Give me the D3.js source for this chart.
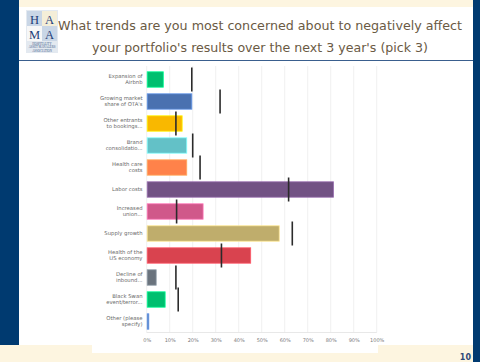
<!DOCTYPE html>
<html lang="en">
<head>
<meta charset="UTF-8">
<title>Trends chart</title>
<script src="https://cdnjs.cloudflare.com/ajax/libs/d3/7.8.5/d3.min.js"></script>
<style>
  body { margin: 0; padding: 0; background: #fff; }
  svg { display: block; }
</style>
</head>
<body>
<svg id="chart" width="480" height="362"></svg>
<script>
// answer options (line breaks as shown on the chart)
var categories = [
  "Expansion of\nAirbnb",
  "Growing market\nshare of OTA's",
  "Other entrants\nto bookings...",
  "Brand\nconsolidatio...",
  "Health care\ncosts",
  "Labor costs",
  "Increased\nunion...",
  "Supply growth",
  "Health of the\nUS economy",
  "Decline of\ninbound...",
  "Black Swan\nevent/terror...",
  "Other (please\nspecify)"
];
// this year's responses, %
var values = [7, 19.4, 15.2, 17.2, 17.2, 81, 24.3, 57.4, 45, 3.9, 7.8, 0.7];
// last year's marker lines, % (null = no marker)
var markers = [19.6, 31.9, 12.7, 20, 23.2, 61.7, 13, 63.3, 32.5, 12.7, 13.7, null];
var barColors = ["#00bf6f", "#4a71b0", "#f9b800", "#63c1c7", "#ff824a", "#725284",
                 "#d0588a", "#bfad6c", "#d9434f", "#6a737d", "#00bf6f", "#4a71b0"];
var ticks = d3.range(0, 101, 10);

var svg = d3.select("#chart");

// slide frame
svg.append("rect").attr("x", 0).attr("y", 0).attr("width", 480).attr("height", 362).attr("fill", "#fdf5e0");
svg.append("rect").attr("x", 19).attr("y", 7).attr("width", 454).attr("height", 338).attr("fill", "#ffffff");
svg.append("rect").attr("x", 0).attr("y", 0).attr("width", 19).attr("height", 345).attr("fill", "#003a70");
svg.append("rect").attr("x", 473).attr("y", 0).attr("width", 7).attr("height", 362).attr("fill", "#003a70");
svg.append("line").attr("x1", 19).attr("x2", 473).attr("y1", 60.5).attr("y2", 60.5)
  .attr("stroke", "#3a5f8e").attr("stroke-width", 1.2);

// logo
var logo = svg.append("g").attr("transform", "translate(26,10)");
logo.append("rect").attr("width", 32).attr("height", 43).attr("fill", "#e3e9f0");
var cells = [
  {t: "H", x: 1, y: 1, bg: "#c9d6e6"},
  {t: "A", x: 16, y: 1, bg: "#f4eed8"},
  {t: "M", x: 1, y: 16, bg: "#f7f7f7"},
  {t: "A", x: 16, y: 16, bg: "#c9d6e6"}
];
cells.forEach(function (c) {
  logo.append("rect").attr("x", c.x).attr("y", c.y).attr("width", 15).attr("height", 15).attr("fill", c.bg);
  logo.append("text").attr("x", c.x + 7.5).attr("y", c.y + 12.5).attr("text-anchor", "middle")
    .attr("font-family", "Liberation Serif, serif").attr("font-size", 12.5).attr("fill", "#1d3d78").text(c.t);
});
["HOSPITALITY", "ASSET MANAGERS", "ASSOCIATION"].forEach(function (s, i) {
  logo.append("text").attr("x", 16).attr("y", 35 + i * 3.4).attr("text-anchor", "middle")
    .attr("font-family", "Liberation Serif, serif").attr("font-size", 3).attr("fill", "#3c5a8a").text(s);
});

// title
var title = svg.append("g").attr("font-family", "DejaVu Sans, sans-serif").attr("fill", "#6a5a44")
  .attr("text-anchor", "middle").attr("font-size", 13);
title.append("text").attr("x", 260).attr("y", 30).attr("textLength", 404).attr("lengthAdjust", "spacingAndGlyphs")
  .text("What trends are you most concerned about to negatively affect");
title.append("text").attr("x", 260).attr("y", 51.5).attr("textLength", 336).attr("lengthAdjust", "spacingAndGlyphs")
  .text("your portfolio's results over the next 3 year's (pick 3)");

// chart panel
svg.append("rect").attr("x", 92).attr("y", 61.5).attr("width", 286).attr("height", 291.5).attr("fill", "#ffffff");

var x = d3.scaleLinear().domain([0, 100]).range([146.7, 376.7]);
var y = d3.scaleBand().domain(categories).range([68.5, 332.5]).paddingInner(0.3).paddingOuter(0.15);

var plot = svg.append("g");

plot.selectAll("line.grid").data(ticks).enter().append("line").attr("class", "grid")
  .attr("x1", function (d) { return x(d); }).attr("x2", function (d) { return x(d); })
  .attr("y1", 66).attr("y2", 332.5).attr("stroke", "#ececec").attr("stroke-width", 0.8);
plot.append("line").attr("x1", x(0)).attr("x2", x(100)).attr("y1", 332.5).attr("y2", 332.5)
  .attr("stroke", "#e2e2e2").attr("stroke-width", 0.8);

var axis = d3.axisBottom(x).tickValues(ticks).tickSize(0).tickPadding(0)
  .tickFormat(function (d) { return d + "%"; });
var ax = plot.append("g").attr("transform", "translate(0,338.5)").call(axis);
ax.select(".domain").remove();
ax.selectAll("text").attr("font-family", "DejaVu Sans, sans-serif").attr("font-size", 5)
  .attr("fill", "#7a7a7a").attr("dy", "0.71em");

plot.selectAll("rect.bar").data(values).enter().append("rect").attr("class", "bar")
  .attr("x", x(0) + 0.5)
  .attr("y", function (d, i) { return y(categories[i]); })
  .attr("width", function (d) { return x(d) - x(0); })
  .attr("height", y.bandwidth())
  .attr("fill", function (d, i) { return barColors[i]; })
  .attr("stroke", function (d, i) { return d3.color(barColors[i]).brighter(0.8); })
  .attr("stroke-width", 0.8);

var markH = 24;
plot.selectAll("line.mark").data(markers.map(function (m, i) { return {m: m, c: categories[i]}; })
    .filter(function (d) { return d.m !== null; }))
  .enter().append("line").attr("class", "mark")
  .attr("x1", function (d) { return x(d.m); }).attr("x2", function (d) { return x(d.m); })
  .attr("y1", function (d) { return y(d.c) + y.bandwidth() / 2 - markH / 2; })
  .attr("y2", function (d) { return y(d.c) + y.bandwidth() / 2 + markH / 2; })
  .attr("stroke", "#2b2b2b").attr("stroke-width", 1.6);

// category labels
var labels = plot.selectAll("text.cat").data(categories).enter().append("text").attr("class", "cat")
  .attr("text-anchor", "end").attr("font-family", "DejaVu Sans, sans-serif")
  .attr("font-size", 5.3).attr("fill", "#6a6a6a");
labels.each(function (d) {
  var lines = d.split("\n");
  var cy = y(d) + y.bandwidth() / 2;
  var lh = 6.3;
  var t = d3.select(this);
  lines.forEach(function (s, i) {
    t.append("tspan").attr("x", 142.5)
      .attr("y", cy + (i - (lines.length - 1) / 2) * lh + 1.8).text(s);
  });
});

// page number
svg.append("text").attr("x", 471).attr("y", 360).attr("text-anchor", "end")
  .attr("font-family", "DejaVu Sans, sans-serif").attr("font-weight", "bold").attr("font-size", 8)
  .attr("fill", "#2e4a78").text("10");
</script>
</body>
</html>
